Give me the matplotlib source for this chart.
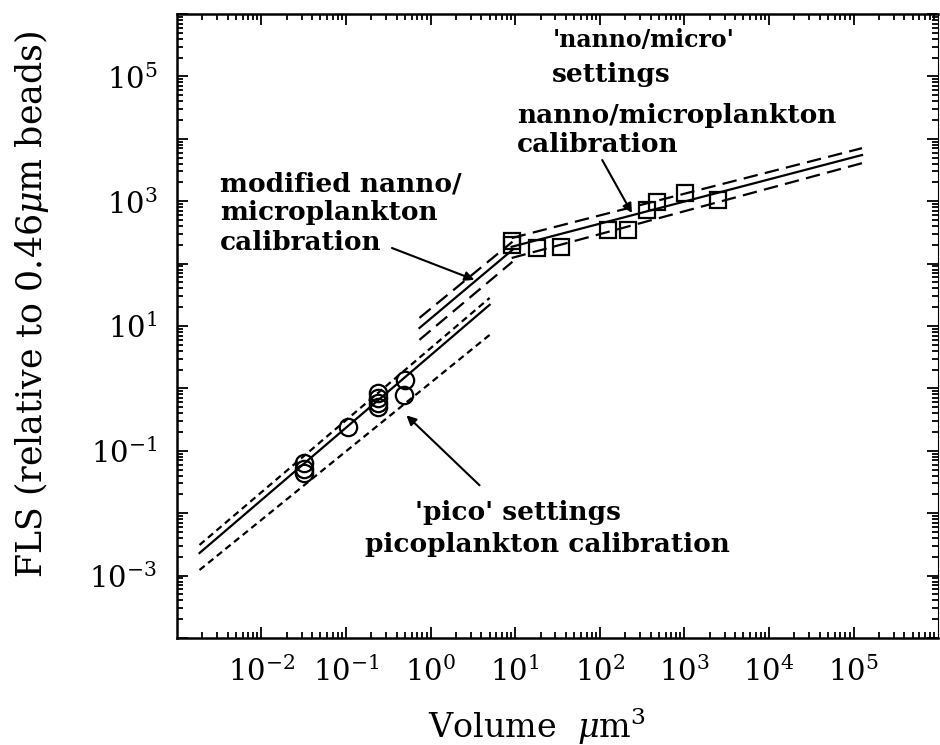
import matplotlib
matplotlib.use("Agg")
import matplotlib.pyplot as plt
from matplotlib.ticker import LogLocator, NullFormatter

plt.rcParams['font.family'] = 'DejaVu Serif'
plt.rcParams['mathtext.fontset'] = 'dejavuserif'

# circles - pico settings (volume um^3, FLS)
circle_vol = [0.032, 0.032, 0.032, 0.105, 0.24, 0.24, 0.24, 0.24, 0.50, 0.48]
circle_fls = [0.063, 0.052, 0.044, 0.24, 0.85, 0.71, 0.59, 0.50, 1.35, 0.78]

# squares - nanno/micro settings
square_vol = [9.1, 9.3, 18, 35, 126, 214, 363, 479, 1023, 2512]
square_fls = [200, 229, 178, 186, 347, 347, 724, 977, 1349, 1047]

# calibration lines (end points)
pico_x = [0.00186, 5.0]
pico_upper = [0.0031, 28.2]
pico_mid = [0.0023, 21.9]
pico_lower = [0.00123, 7.2]

mod_x = [0.74, 9.3]
mod_upper = [13.5, 224]
mod_mid = [9.3, 166]
mod_lower = [6.0, 107]

nanno_x = [9.1, 126000]
nanno_upper = [257, 7080]
nanno_mid = [186, 5500]
nanno_lower = [123, 4070]

fig = plt.figure(figsize=(9.4, 7.45), dpi=100)
ax = fig.add_axes([0.188, 0.1436, 0.810, 0.8376])

lw = 1.6
short = (0, (3, 2))
long_ = (0, (6.5, 3.3))

ax.plot(pico_x, pico_upper, color='k', lw=lw, linestyle=short)
ax.plot(pico_x, pico_mid, color='k', lw=lw)
ax.plot(pico_x, pico_lower, color='k', lw=lw, linestyle=short)

ax.plot(mod_x, mod_upper, color='k', lw=lw, linestyle=long_)
ax.plot(mod_x, mod_mid, color='k', lw=lw)
ax.plot(mod_x, mod_lower, color='k', lw=lw, linestyle=long_)

ax.plot(nanno_x, nanno_upper, color='k', lw=lw, linestyle=long_)
ax.plot(nanno_x, nanno_mid, color='k', lw=lw)
ax.plot(nanno_x, nanno_lower, color='k', lw=lw, linestyle=long_)

ax.plot(circle_vol, circle_fls, 'o', mfc='none', mec='k', ms=12.5, mew=1.6)
ax.plot(square_vol, square_fls, 's', mfc='none', mec='k', ms=11, mew=1.6)

ax.set_xscale('log')
ax.set_yscale('log')
ax.set_xlim(1e-3, 1e6)
ax.set_ylim(1e-4, 1e6)

xt = [1e-2, 1e-1, 1e0, 1e1, 1e2, 1e3, 1e4, 1e5]
ax.set_xticks(xt)
ax.set_xticklabels([r'$10^{%d}$' % e for e in range(-2, 6)])
yt = [10.0 ** e for e in range(-4, 7)]
ax.set_yticks(yt)
ax.set_yticklabels([r'$10^{%d}$' % e if e % 2 != 0 and -3 <= e <= 5 else '' for e in range(-4, 7)])
ax.xaxis.set_minor_locator(LogLocator(base=10, subs=range(2, 10), numticks=30))
ax.yaxis.set_minor_locator(LogLocator(base=10, subs=range(2, 10), numticks=30))
ax.xaxis.set_minor_formatter(NullFormatter())
ax.yaxis.set_minor_formatter(NullFormatter())

ax.tick_params(which='both', direction='in', top=True, right=True, width=1.3, labelsize=21)
ax.tick_params(which='major', length=8)
ax.tick_params(which='minor', length=4)
ax.tick_params(axis='x', pad=13)
ax.tick_params(axis='y', pad=14)
for s in ax.spines.values():
    s.set_linewidth(1.8)
ax.spines['right'].set_linewidth(0.8)

ax.set_xlabel(r'Volume  $\mu$m$^3$', fontsize=24)
ax.xaxis.set_label_coords(0.473, -0.108)
ax.set_ylabel(r'FLS (relative to 0.46$\mu$m beads)', fontsize=25)
ax.yaxis.set_label_coords(-0.165, 0.534)

tk = dict(fontsize=19, fontweight='bold', va='baseline', ha='left')
ax.text(28.0, 2.96e5, "'nanno/micro'", **dict(tk, fontsize=17))
ax.text(27.2, 8.13e4, "settings", **tk)
ax.text(10.5, 1.79e4, "nanno/microplankton", **tk)
ax.text(10.5, 6.14e3, "calibration", **tk)
ax.text(0.00323, 1455, "modified nanno/", **tk)
ax.text(0.00323, 500, "microplankton", **tk)
ax.text(0.00323, 165, "calibration", **tk)
ax.text(0.653, 0.00778, "'pico' settings", **tk)
ax.text(0.167, 0.00239, "picoplankton calibration", **tk)

ap = dict(arrowstyle='-|>', color='k', lw=1.5, mutation_scale=14, shrinkA=0, shrinkB=0)
ax.annotate('', xy=(240, 645), xytext=(107, 4570), arrowprops=ap)
ax.annotate('', xy=(3.3, 55), xytext=(0.35, 178), arrowprops=ap)
ax.annotate('', xy=(0.52, 0.37), xytext=(3.8, 0.028), arrowprops=ap)

fig.savefig('out.png', dpi=100)
